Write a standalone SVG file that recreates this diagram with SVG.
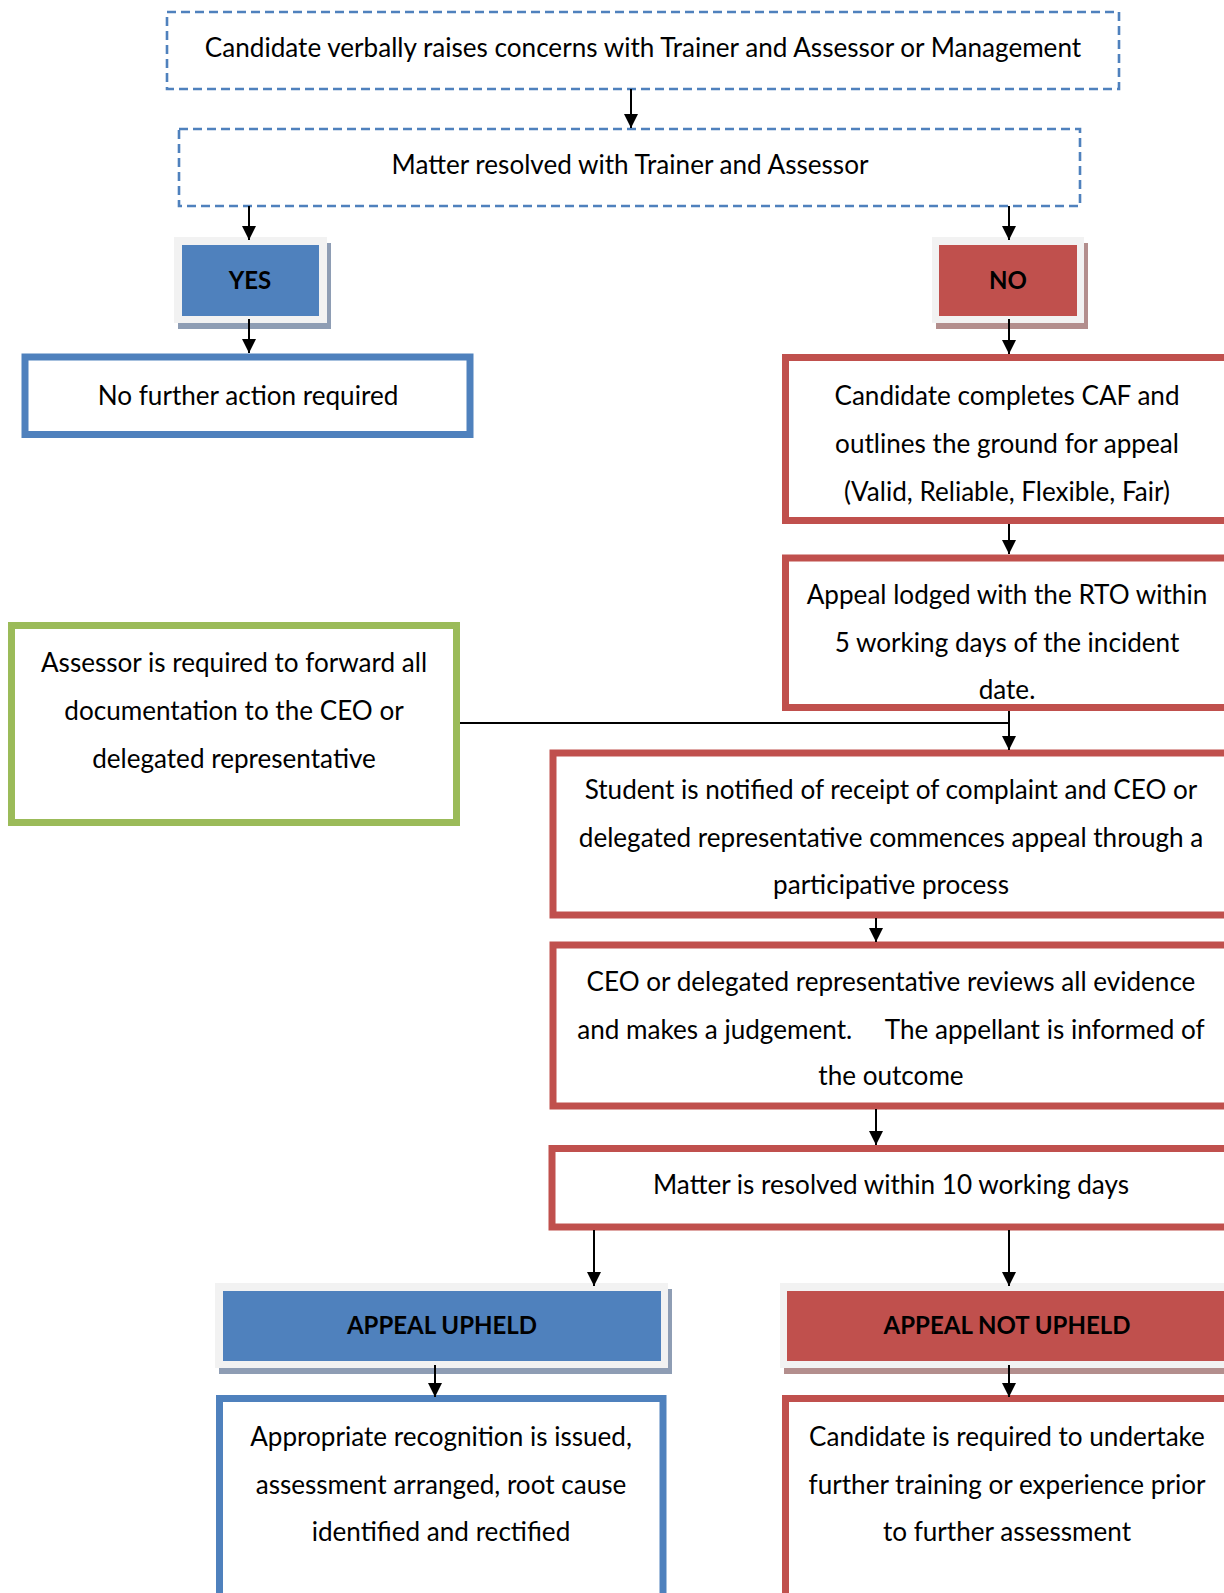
<svg xmlns="http://www.w3.org/2000/svg" width="1224" height="1593" viewBox="0 0 1224 1593">
<style>
text{font-family:Lato,"Liberation Sans",sans-serif;font-size:26.1px;fill:#000;text-anchor:middle}
.b{font-weight:bold;font-size:24px}
.dash{fill:#fff;stroke:#4F81BD;stroke-width:2.6;stroke-dasharray:9 5}
.bl{fill:#fff;stroke:#4F81BD;stroke-width:7}
.rd{fill:#fff;stroke:#C0504D;stroke-width:7}
.gr{fill:#fff;stroke:#9BBB59;stroke-width:7}
.frame{fill:#F2F2F2}
.shb{fill:#8E9DB4}
.shr{fill:#B38E8D}
.fb{fill:#4F81BD}
.fr{fill:#C0504D}
.c{stroke:#000;stroke-width:2;fill:none}
.ca{stroke:#000;stroke-width:2;fill:none;marker-end:url(#ah)}
</style>
<defs>
<marker id="ah" markerUnits="userSpaceOnUse" markerWidth="14" markerHeight="14" viewBox="0 0 12 12" refX="12" refY="6" orient="auto">
<path d="M0,0 L12,6 L0,12 z" fill="#000"/>
</marker>
</defs>
<rect width="1224" height="1593" fill="#fff"/>
<g id="n1"><rect class="dash" x="167" y="12" width="952" height="77"/><text x="643" y="57">Candidate verbally raises concerns with Trainer and Assessor or Management</text></g>
<g id="n2"><rect class="dash" x="179" y="129" width="901" height="77"/><text x="630" y="174">Matter resolved with Trainer and Assessor</text></g>
<g id="yes"><rect class="shb" x="178" y="243" width="153" height="86"/><rect class="frame" x="174" y="237" width="153" height="86"/><rect class="fb" x="182" y="245" width="137" height="71"/><text class="b" x="250" y="289">YES</text></g>
<g id="no"><rect class="shr" x="936" y="243" width="152" height="86"/><rect class="frame" x="932" y="237" width="152" height="86"/><rect class="fr" x="939" y="245" width="138" height="71"/><text class="b" x="1008" y="289">NO</text></g>
<g id="nfa"><rect class="bl" x="25" y="357" width="445" height="77.5"/><text x="248" y="405">No further action required</text></g>
<g id="caf"><rect class="rd" x="785.5" y="357.5" width="460" height="163"/><text x="1007" y="405">Candidate completes CAF and</text><text x="1007" y="453">outlines the ground for appeal</text><text x="1007" y="501">(Valid, Reliable, Flexible, Fair)</text></g>
<g id="lodged"><rect class="rd" x="785.5" y="558" width="460" height="149.5"/><text x="1007" y="604">Appeal lodged with the RTO within</text><text x="1007" y="652">5 working days of the incident</text><text x="1007" y="699">date.</text></g>
<g id="assessor"><rect class="gr" x="11.5" y="625.5" width="445" height="197"/><text x="234" y="672">Assessor is required to forward all</text><text x="234" y="720">documentation to the CEO or</text><text x="234" y="768">delegated representative</text></g>
<g id="student"><rect class="rd" x="553" y="753" width="700" height="162"/><text x="891" y="799">Student is notified of receipt of complaint and CEO or</text><text x="891" y="847">delegated representative commences appeal through a</text><text x="891" y="894">participative process</text></g>
<g id="ceo"><rect class="rd" x="553" y="945" width="700" height="161"/><text x="891" y="991">CEO or delegated representative reviews all evidence</text><text x="891" y="1039" xml:space="preserve">and makes a judgement.     The appellant is informed of</text><text x="891" y="1085">the outcome</text></g>
<g id="resolved"><rect class="rd" x="552" y="1148.5" width="700" height="78.5"/><text x="891" y="1194">Matter is resolved within 10 working days</text></g>
<g id="upheld"><rect class="shb" x="219" y="1289" width="453" height="85"/><rect class="frame" x="215" y="1283" width="453" height="85"/><rect class="fb" x="223" y="1291" width="438" height="70"/><text class="b" x="442" y="1334">APPEAL UPHELD</text></g>
<g id="notupheld"><rect class="shr" x="784" y="1289" width="460" height="85"/><rect class="frame" x="780" y="1283" width="460" height="85"/><rect class="fr" x="787" y="1291" width="460" height="70"/><text class="b" x="1007" y="1334">APPEAL NOT UPHELD</text></g>
<g id="recog"><rect class="bl" x="219.5" y="1398.5" width="443.5" height="220"/><text x="441" y="1446">Appropriate recognition is issued,</text><text x="441" y="1494">assessment arranged, root cause</text><text x="441" y="1541">identified and rectified</text></g>
<g id="further"><rect class="rd" x="785.5" y="1398.5" width="460" height="220"/><text x="1007" y="1446">Candidate is required to undertake</text><text x="1007" y="1494">further training or experience prior</text><text x="1007" y="1541">to further assessment</text></g>
<g id="connectors">
<line class="ca" x1="631" y1="89" x2="631" y2="128"/>
<line class="ca" x1="249" y1="206" x2="249" y2="240"/>
<line class="ca" x1="1009" y1="206" x2="1009" y2="240"/>
<line class="ca" x1="249" y1="319" x2="249" y2="353"/>
<line class="ca" x1="1009" y1="319" x2="1009" y2="354"/>
<line class="ca" x1="1009" y1="524" x2="1009" y2="554"/>
<line class="c" x1="460" y1="723" x2="1009" y2="723"/>
<line class="ca" x1="1009" y1="711" x2="1009" y2="750"/>
<line class="ca" x1="876" y1="918" x2="876" y2="942"/>
<line class="ca" x1="876" y1="1109" x2="876" y2="1145"/>
<line class="ca" x1="594" y1="1230" x2="594" y2="1286"/>
<line class="ca" x1="1009" y1="1230" x2="1009" y2="1286"/>
<line class="ca" x1="435" y1="1365" x2="435" y2="1397"/>
<line class="ca" x1="1009" y1="1365" x2="1009" y2="1397"/>
</g>
</svg>
